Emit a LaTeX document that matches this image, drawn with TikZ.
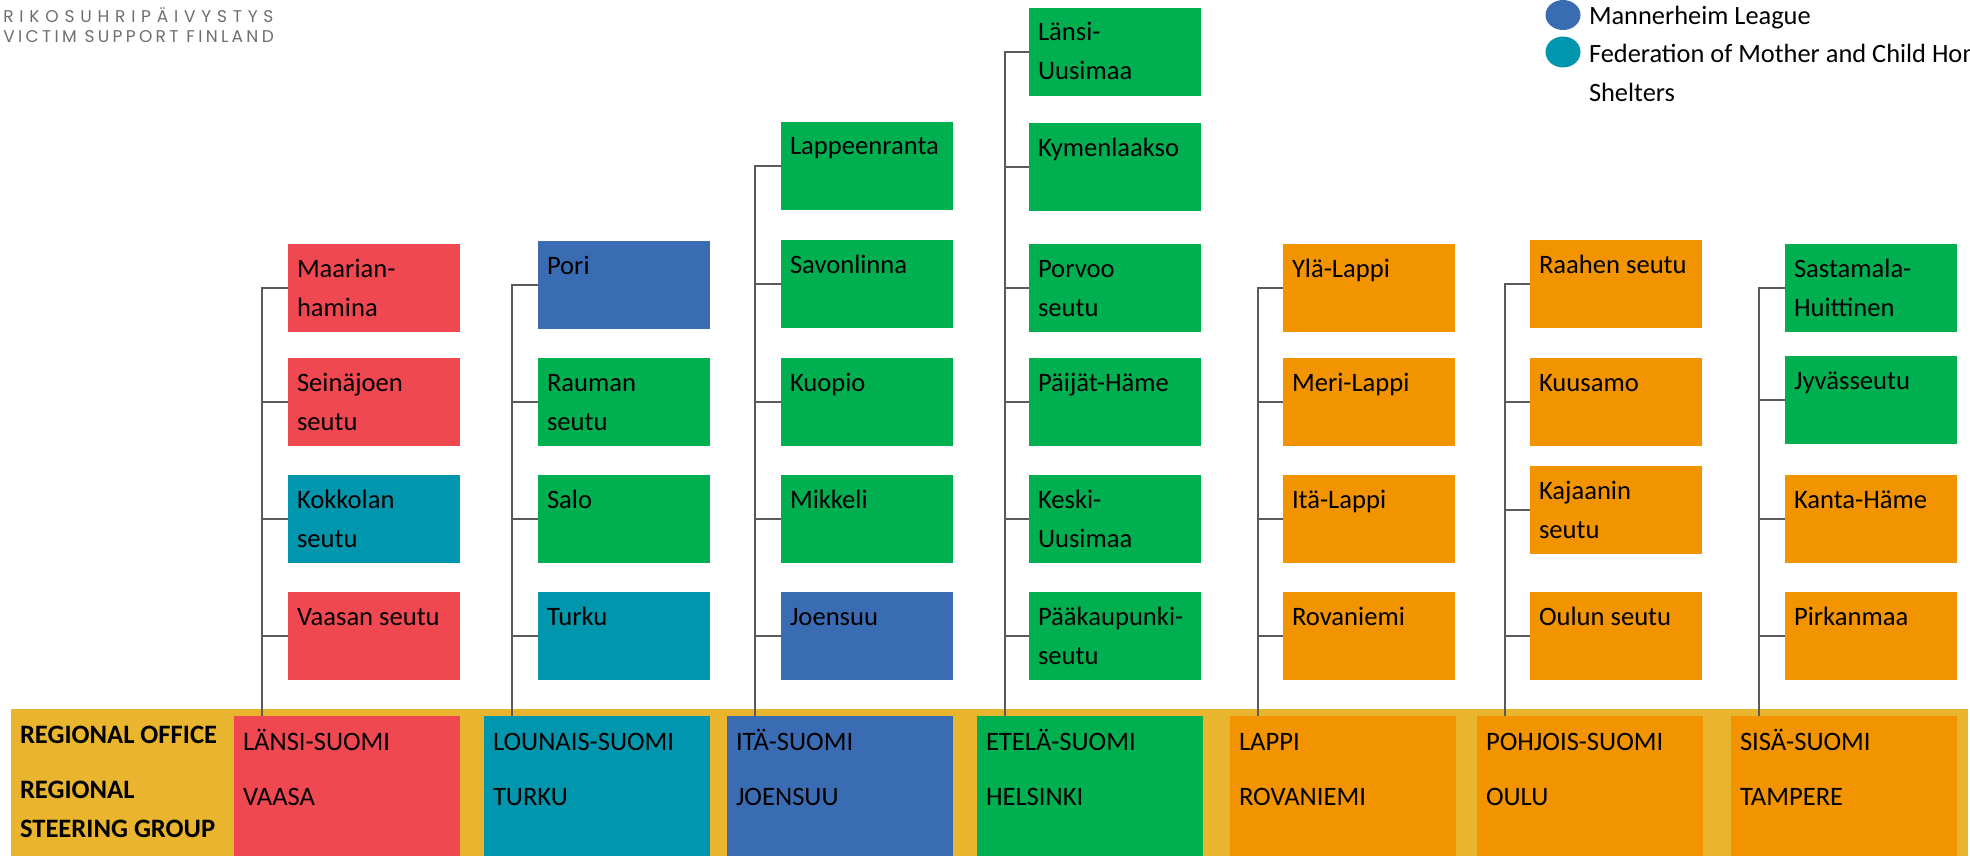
\documentclass[tikz,border=0pt]{standalone}
\usepackage{fontspec}
\setmainfont{Carlito}
\newfontfamily\logoA[LetterSpace=34]{Poppins}
\newfontfamily\logoB[LetterSpace=19.5]{Poppins}
\usetikzlibrary{calc,shapes.geometric}
\definecolor{cred}{HTML}{F04850}
\definecolor{cblue}{HTML}{3A6CB4}
\definecolor{cteal}{HTML}{0096AD}
\definecolor{cgreen}{HTML}{00B050}
\definecolor{corange}{HTML}{F29300}
\definecolor{cband}{HTML}{EAB52E}
\definecolor{cline}{HTML}{5A5A5A}
\definecolor{clogo}{HTML}{6E6E6E}
\tikzset{
  cbox/.style={rectangle, inner sep=0pt, outer sep=0pt, minimum width=86pt, minimum height=44pt, anchor=north west},
  rbox/.style={rectangle, inner sep=0pt, outer sep=0pt, minimum width=113pt, minimum height=75pt, anchor=north west},
  txt/.style={anchor=base west, inner sep=0pt, outer sep=0pt, font=\fontsize{13.3}{15}\selectfont},
  btxt/.style={txt, font=\fontsize{13.3}{15}\selectfont\bfseries},
  ltxt/.style={anchor=base west, inner sep=0pt, outer sep=0pt, font=\fontsize{13.2}{16}\selectfont},
  conn/.style={draw=cline, line width=0.7pt},
  dot/.style={ellipse, inner sep=0pt, outer sep=0pt, minimum width=17.5pt, minimum height=15pt}
}
\newcommand\cityBox[6]{%
  \node[cbox, fill=#4] (#1) at (#2,#3) {};
  \node[txt] (#1-a) at ($(#1.north west)+(9,33)$) {#5};
  \if\relax\detokenize{#6}\relax\else
    \node[txt] (#1-b) at ($(#1.north west)+(9,72)$) {#6};
  \fi}
\newcommand\regBox[5]{%
  \node[rbox, fill=#3] (#1) at (#2,716) {};
  \node[txt] (#1-a) at ($(#1.north west)+(9,34)$) {#4};
  \node[txt] (#1-b) at ($(#1.north west)+(9,89)$) {#5};
  \coordinate (#1-v) at ($(#1.north west)+(28,0)$);}
\begin{document}
\begin{tikzpicture}[x=0.5pt,y=-0.5pt]
\useasboundingbox (0,0) rectangle (1970,856);
\clip (0,0) rectangle (1970,856);

% logo
\node[anchor=base west, inner sep=0pt, text=clogo, font=\logoA\fontsize{8.5}{9}\selectfont] (logo1) at (3,23) {RIKOSUHRIPÄIVYSTYS};
\node[anchor=base west, inner sep=0pt, text=clogo, font=\logoB\fontsize{8.5}{9}\selectfont] (logo2) at (3,43) {VICTIM SUPPORT FINLAND};

% legend
\node[dot, fill=cblue] (lg1) at (1563,15) {};
\node[dot, fill=cteal, minimum height=15.5pt] (lg2) at (1563,52) {};
\node[ltxt] (lg1t) at (1589,25) {Mannerheim League};
\node[ltxt] (lg2t) at (1589,63) {Federation of Mother and Child Homes};
\node[ltxt] (lg3t) at (1589,102) {Shelters};

% band
\node[rectangle, fill=cband, inner sep=0pt, anchor=north west, minimum width=978.5pt, minimum height=80pt] (band) at (11,709) {};
\node[btxt] (ro) at (20,743) {REGIONAL OFFICE};
\node[btxt] (rs1) at (20,798) {REGIONAL};
\node[btxt] (rs2) at (20,837) {STEERING GROUP};

% regional boxes
\regBox{R1}{234}{cred}{LÄNSI-SUOMI}{VAASA}
\regBox{R2}{484}{cteal}{LOUNAIS-SUOMI}{TURKU}
\regBox{R3}{727}{cblue}{ITÄ-SUOMI}{JOENSUU}
\regBox{R4}{977}{cgreen}{ETELÄ-SUOMI}{HELSINKI}
\regBox{R5}{1230}{corange}{LAPPI}{ROVANIEMI}
\regBox{R6}{1477}{corange}{POHJOIS-SUOMI}{OULU}
\regBox{R7}{1731}{corange}{SISÄ-SUOMI}{TAMPERE}

% column 1
\cityBox{a1}{288}{244}{cred}{Maarian-}{hamina}
\cityBox{a2}{288}{358}{cred}{Seinäjoen}{seutu}
\cityBox{a3}{288}{475}{cteal}{Kokkolan}{seutu}
\cityBox{a4}{288}{592}{cred}{Vaasan seutu}{}
% column 2
\cityBox{b1}{538}{241}{cblue}{Pori}{}
\cityBox{b2}{538}{358}{cgreen}{Rauman}{seutu}
\cityBox{b3}{538}{475}{cgreen}{Salo}{}
\cityBox{b4}{538}{592}{cteal}{Turku}{}
% column 3
\cityBox{c1}{781}{122}{cgreen}{Lappeenranta}{}
\cityBox{c2}{781}{240}{cgreen}{Savonlinna}{}
\cityBox{c3}{781}{358}{cgreen}{Kuopio}{}
\cityBox{c4}{781}{475}{cgreen}{Mikkeli}{}
\cityBox{c5}{781}{592}{cblue}{Joensuu}{}
% column 4
\cityBox{d1}{1029}{8}{cgreen}{Länsi-}{Uusimaa}
\cityBox{d2}{1029}{123}{cgreen}{Kymenlaakso}{}
\cityBox{d3}{1029}{244}{cgreen}{Porvoo}{seutu}
\cityBox{d4}{1029}{358}{cgreen}{Päijät-Häme}{}
\cityBox{d5}{1029}{475}{cgreen}{Keski-}{Uusimaa}
\cityBox{d6}{1029}{592}{cgreen}{Pääkaupunki-}{seutu}
% column 5
\cityBox{e1}{1283}{244}{corange}{Ylä-Lappi}{}
\cityBox{e2}{1283}{358}{corange}{Meri-Lappi}{}
\cityBox{e3}{1283}{475}{corange}{Itä-Lappi}{}
\cityBox{e4}{1283}{592}{corange}{Rovaniemi}{}
% column 6
\cityBox{f1}{1530}{240}{corange}{Raahen seutu}{}
\cityBox{f2}{1530}{358}{corange}{Kuusamo}{}
\cityBox{f3}{1530}{466}{corange}{Kajaanin}{seutu}
\cityBox{f4}{1530}{592}{corange}{Oulun seutu}{}
% column 7
\cityBox{g1}{1785}{244}{cgreen}{Sastamala-}{Huittinen}
\cityBox{g2}{1785}{356}{cgreen}{Jyvässeutu}{}
\cityBox{g3}{1785}{475}{corange}{Kanta-Häme}{}
\cityBox{g4}{1785}{592}{corange}{Pirkanmaa}{}

% connectors
\draw[conn] (R1-v) |- (a1.west) (R1-v) |- (a2.west) (R1-v) |- (a3.west) (R1-v) |- (a4.west);
\draw[conn] (R2-v) |- (b1.west) (R2-v) |- (b2.west) (R2-v) |- (b3.west) (R2-v) |- (b4.west);
\draw[conn] (R3-v) |- (c1.west) (R3-v) |- (c2.west) (R3-v) |- (c3.west) (R3-v) |- (c4.west) (R3-v) |- (c5.west);
\draw[conn] (R4-v) |- (d1.west) (R4-v) |- (d2.west) (R4-v) |- (d3.west) (R4-v) |- (d4.west) (R4-v) |- (d5.west) (R4-v) |- (d6.west);
\draw[conn] (R5-v) |- (e1.west) (R5-v) |- (e2.west) (R5-v) |- (e3.west) (R5-v) |- (e4.west);
\draw[conn] (R6-v) |- (f1.west) (R6-v) |- (f2.west) (R6-v) |- (f3.west) (R6-v) |- (f4.west);
\draw[conn] (R7-v) |- (g1.west) (R7-v) |- (g2.west) (R7-v) |- (g3.west) (R7-v) |- (g4.west);
\end{tikzpicture}
\end{document}
